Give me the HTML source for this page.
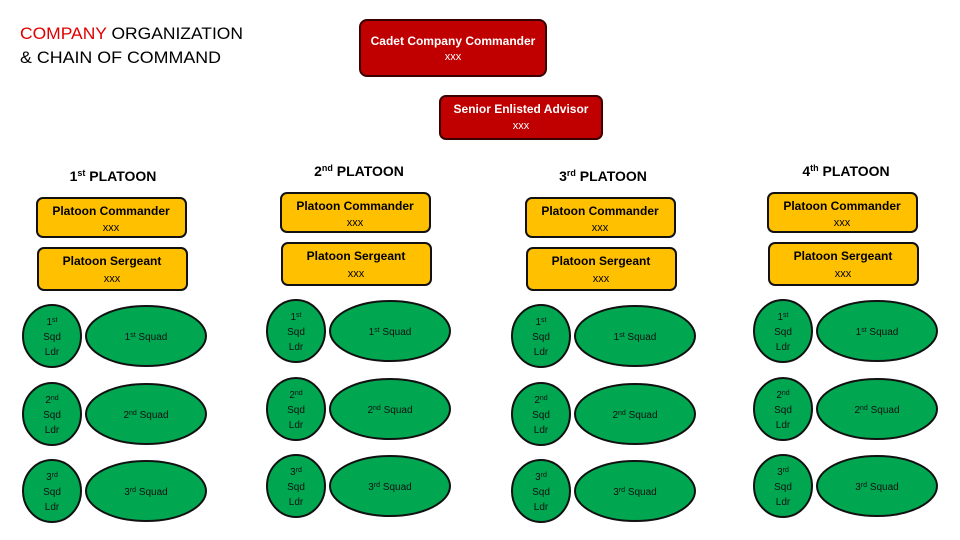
<!DOCTYPE html>
<html><head><meta charset="utf-8"><style>
html,body{margin:0;padding:0;background:#fff;}
svg{display:block;font-family:"Liberation Sans",sans-serif;}
.b{font-weight:bold;}
</style></head><body>
<svg width="960" height="540" viewBox="0 0 960 540" xmlns="http://www.w3.org/2000/svg">
<text x="20" y="39" font-size="17" textLength="223" lengthAdjust="spacingAndGlyphs"><tspan fill="#e00000">COMPANY</tspan> ORGANIZATION</text>
<text x="20" y="63" font-size="17" textLength="201" lengthAdjust="spacingAndGlyphs">&amp; CHAIN OF COMMAND</text>

<rect x="360" y="20" width="186" height="56" rx="7" fill="#c00000" stroke="#3a0000" stroke-width="2"/>
<text x="453" y="45" font-size="12" fill="#fff" text-anchor="middle" class="b">Cadet Company Commander</text>
<text x="453" y="60" font-size="11" fill="#fff" text-anchor="middle">xxx</text>
<rect x="440" y="96" width="162" height="43" rx="6" fill="#c00000" stroke="#3a0000" stroke-width="2"/>
<text x="521" y="113" font-size="12" fill="#fff" text-anchor="middle" class="b">Senior Enlisted Advisor</text>
<text x="521" y="129" font-size="11" fill="#fff" text-anchor="middle">xxx</text>

<defs>
<g id="body">
<rect x="37" y="198" width="149" height="39" rx="6" fill="#ffc000" stroke="#111" stroke-width="2"/>
<text x="111" y="215" font-size="12" text-anchor="middle" class="b">Platoon Commander</text>
<text x="111" y="231" font-size="11" text-anchor="middle">xxx</text>
<rect x="38" y="248" width="149" height="42" rx="6" fill="#ffc000" stroke="#111" stroke-width="2"/>
<text x="112" y="265" font-size="12" text-anchor="middle" class="b">Platoon Sergeant</text>
<text x="112" y="282" font-size="11" text-anchor="middle">xxx</text>
<g fill="#00a650" stroke="#111" stroke-width="2">
<ellipse cx="52" cy="336" rx="29" ry="31"/><ellipse cx="146" cy="336" rx="60" ry="30"/>
<ellipse cx="52" cy="414" rx="29" ry="31"/><ellipse cx="146" cy="414" rx="60" ry="30"/>
<ellipse cx="52" cy="491" rx="29" ry="31"/><ellipse cx="146" cy="491" rx="60" ry="30"/>
</g>
<g font-size="10" text-anchor="middle" fill="#111">
<text x="52" y="325">1<tspan font-size="7" dy="-3">st</tspan></text>
<text x="52" y="340">Sqd</text><text x="52" y="355">Ldr</text>
<text x="146" y="340">1<tspan font-size="7" dy="-3">st</tspan><tspan dy="3"> Squad</tspan></text>
<text x="52" y="403">2<tspan font-size="7" dy="-3">nd</tspan></text>
<text x="52" y="418">Sqd</text><text x="52" y="433">Ldr</text>
<text x="146" y="418">2<tspan font-size="7" dy="-3">nd</tspan><tspan dy="3"> Squad</tspan></text>
<text x="52" y="480">3<tspan font-size="7" dy="-3">rd</tspan></text>
<text x="52" y="495">Sqd</text><text x="52" y="510">Ldr</text>
<text x="146" y="495">3<tspan font-size="7" dy="-3">rd</tspan><tspan dy="3"> Squad</tspan></text>
</g>
</g>
</defs>

<use href="#body" x="0" y="0"/>
<use href="#body" x="244" y="-5"/>
<use href="#body" x="489" y="0"/>
<use href="#body" x="731" y="-5"/>

<g font-size="14" text-anchor="middle" class="b">
<text x="113" y="181">1<tspan font-size="9" dy="-5">st</tspan><tspan dy="5"> PLATOON</tspan></text>
<text x="359" y="176">2<tspan font-size="9" dy="-5">nd</tspan><tspan dy="5"> PLATOON</tspan></text>
<text x="603" y="181">3<tspan font-size="9" dy="-5">rd</tspan><tspan dy="5"> PLATOON</tspan></text>
<text x="846" y="176">4<tspan font-size="9" dy="-5">th</tspan><tspan dy="5"> PLATOON</tspan></text>
</g>
</svg>
</body></html>
